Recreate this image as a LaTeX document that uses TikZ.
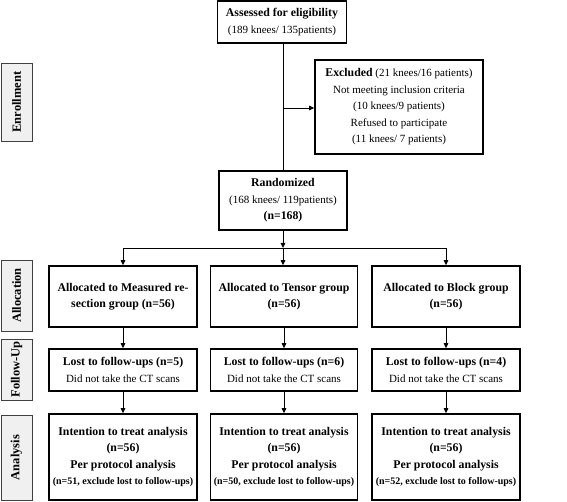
\documentclass[tikz,border=0pt]{standalone}
\usepackage{fontspec}
\setmainfont{Liberation Serif}
\usetikzlibrary{arrows.meta}
\newcommand{\bt}[1]{{\fontsize{11.8}{16.5}\selectfont\bfseries #1}}
\newcommand{\smb}[1]{{\fontsize{10}{14}\selectfont\bfseries #1}}
\begin{document}
\begin{tikzpicture}[x=1pt,y=-1pt,
  box/.style={draw=black, line width=1.6pt, align=center, inner sep=0pt, font=\fontsize{11}{16.5}\selectfont},
  lbl/.style={draw=black!75, line width=0.7pt, fill=black!6, rotate=90, inner sep=0pt, font=\fontsize{12.5}{14}\selectfont\bfseries},
  arr/.style={-{Triangle[length=5pt,width=4.5pt]}, line width=0.9pt},
  ln/.style={line width=0.9pt}]
\useasboundingbox (0,0) rectangle (567,502);

% phase labels
\node[lbl, minimum width=78, minimum height=31] (lenr) at (16.5,102) {Enrollment};
\node[lbl, minimum width=71, minimum height=31] (lall) at (16.5,295.5) {Allocation};
\node[lbl, minimum width=61, minimum height=31] (lfol) at (16.5,369.5) {Follow-Up};
\node[lbl, minimum width=85, minimum height=31] (lana) at (16.5,457.5) {Analysis};

% enrollment
\node[box, minimum width=129, minimum height=42] (assess) at (282,22) {\bt{Assessed for eligibility}\\(189 knees/ 135patients)};
\node[box, minimum width=168, minimum height=94] (excl) at (399,107) {\bt{Excluded} (21 knees/16 patients)\\Not meeting inclusion criteria\\(10 knees/9 patients)\\Refused to participate\\(11 knees/ 7 patients)};
\node[box, minimum width=128, minimum height=59] (rand) at (283,200.5) {\bt{Randomized}\\(168 knees/ 119patients)\\\bt{(n=168)}};

% allocation
\node[box, minimum width=148, minimum height=61] (a1) at (123,296.5) {\bt{Allocated to Measured re-}\\\bt{section group (n=56)}};
\node[box, minimum width=147, minimum height=61] (a2) at (284,296.5) {\bt{Allocated to Tensor group}\\\bt{(n=56)}};
\node[box, minimum width=148, minimum height=61] (a3) at (446,296.5) {\bt{Allocated to Block group}\\\bt{(n=56)}};

% follow-up
\node[box, minimum width=148, minimum height=42] (f1) at (123,370) {\bt{Lost to follow-ups (n=5)}\\Did not take the CT scans};
\node[box, minimum width=147, minimum height=42] (f2) at (284,370) {\bt{Lost to follow-ups (n=6)}\\Did not take the CT scans};
\node[box, minimum width=148, minimum height=42] (f3) at (446,370) {\bt{Lost to follow-ups (n=4)}\\Did not take the CT scans};

% analysis
\node[box, minimum width=148, minimum height=86] (n1) at (123,457) {\bt{Intention to treat analysis}\\\bt{(n=56)}\\\bt{Per protocol analysis}\\\smb{(n=51, exclude lost to follow-ups)}};
\node[box, minimum width=147, minimum height=86] (n2) at (284,457) {\bt{Intention to treat analysis}\\\bt{(n=56)}\\\bt{Per protocol analysis}\\\smb{(n=50, exclude lost to follow-ups)}};
\node[box, minimum width=148, minimum height=86] (n3) at (446,457) {\bt{Intention to treat analysis}\\\bt{(n=56)}\\\bt{Per protocol analysis}\\\smb{(n=52, exclude lost to follow-ups)}};

% connectors
\coordinate (j1) at (283,108);
\coordinate (br) at (283,248);
\draw[ln] (assess.south -| j1) -- (rand.north -| j1);
\draw[arr] (j1) -- (j1 -| excl.west);
\draw[arr] (rand.south -| br) -- (br);
\draw[ln] (br -| a1) -- (br -| a3);
\draw[arr] (br -| a1) -- (a1.north);
\draw[arr] (br) -- (br |- a2.north);
\draw[arr] (br -| a3) -- (a3.north);
\draw[arr] (a1) -- (f1);
\draw[arr] (a2) -- (f2);
\draw[arr] (a3) -- (f3);
\draw[arr] (f1) -- (n1);
\draw[arr] (f2) -- (n2);
\draw[arr] (f3) -- (n3);
\end{tikzpicture}
\end{document}
